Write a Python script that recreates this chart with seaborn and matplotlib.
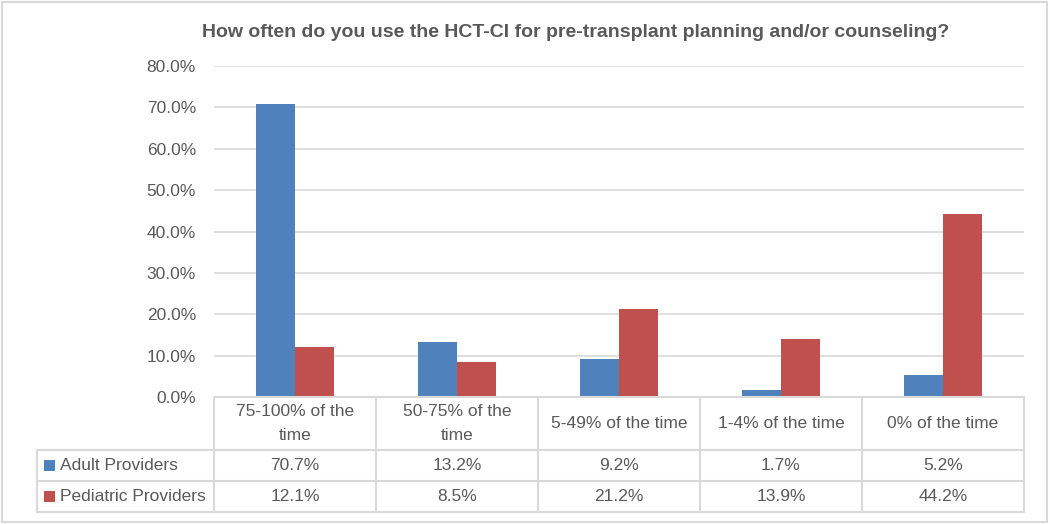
import numpy as np
import pandas as pd
import matplotlib
matplotlib.use('Agg')
import matplotlib.pyplot as plt
from matplotlib.patches import Rectangle
from matplotlib.lines import Line2D
import seaborn as sns

# chart data
categories = ['75-100% of the\ntime', '50-75% of the\ntime', '5-49% of the time',
              '1-4% of the time', '0% of the time']
series = ['Adult Providers', 'Pediatric Providers']
adult = [70.7, 13.2, 9.2, 1.7, 5.2]
pediatric = [12.1, 8.5, 21.2, 13.9, 44.2]
colors = ['#4F81BD', '#C0504D']
y_ticks = [0, 10, 20, 30, 40, 50, 60, 70, 80]

df = pd.DataFrame({
    'Category': categories * 2,
    'Provider': [series[0]] * 5 + [series[1]] * 5,
    'Value': adult + pediatric,
})

sns.set_style('white')
plt.rcParams['font.family'] = ['Liberation Sans', 'DejaVu Sans']
txt = '#595959'
grid = '#D9D9D9'

W, H = 1050, 524
fig = plt.figure(figsize=(W / 100, H / 100), dpi=100)
L, R, T, B = 214, 1024, 66, 397
ax = fig.add_axes([L / W, 1 - B / H, (R - L) / W, (B - T) / H])

sns.barplot(data=df, x='Category', y='Value', hue='Provider', order=categories,
            hue_order=series, palette=colors, width=0.48, saturation=1,
            linewidth=0, legend=False, ax=ax)

ax.set_xlim(-0.5, len(categories) - 0.5)
ax.set_ylim(0, 80)
ax.set_yticks(y_ticks)
ax.set_yticklabels([f'{v:.1f}%' for v in y_ticks], color=txt, fontsize=12.5)
ax.tick_params(axis='y', length=0, pad=13)
ax.set_xticks([])
ax.set_xlabel('')
ax.set_ylabel('')
ax.yaxis.grid(True, color=grid, linewidth=1.2)
ax.set_axisbelow(True)
for s in ax.spines.values():
    s.set_visible(False)

ax.set_title('How often do you use the HCT-CI for pre-transplant planning and/or counseling?',
             fontsize=14, fontweight='bold', color=txt, x=0.446, pad=21)

# data table below the axes
ph = B - T
pw = R - L
y_hdr = -53 / ph
y_r1 = -84 / ph
y_r2 = -115 / ph
x_lab = (37 - L) / pw
lkw = dict(color=grid, linewidth=1.5, clip_on=False, transform=ax.transAxes)
trans_x = ax.get_xaxis_transform()

ax.add_line(Line2D([0, 1], [0, 0], **lkw))
for yy in (y_hdr, y_r1, y_r2):
    ax.add_line(Line2D([x_lab, 1], [yy, yy], **lkw))
ax.add_line(Line2D([x_lab, x_lab], [y_hdr, y_r2], **lkw))
for i in range(len(categories) + 1):
    ax.add_line(Line2D([i - 0.5, i - 0.5], [0, y_r2], color=grid, linewidth=1.5,
                       clip_on=False, transform=trans_x))

for i, c in enumerate(categories):
    ax.text(i, y_hdr / 2, c, transform=trans_x, ha='center', va='center',
            fontsize=12.5, color=txt, linespacing=1.75)
    ax.text(i, (y_hdr + y_r1) / 2, f'{adult[i]:.1f}%', transform=trans_x,
            ha='center', va='center', fontsize=12.5, color=txt)
    ax.text(i, (y_r1 + y_r2) / 2, f'{pediatric[i]:.1f}%', transform=trans_x,
            ha='center', va='center', fontsize=12.5, color=txt)

for j, (name, col) in enumerate(zip(series, colors)):
    yc = (y_hdr + y_r1) / 2 if j == 0 else (y_r1 + y_r2) / 2
    sq_w = 11 / pw
    sq_h = 11 / ph
    ax.add_patch(Rectangle(((44 - L) / pw, yc - sq_h / 2), sq_w, sq_h,
                           facecolor=col, edgecolor='none', clip_on=False,
                           transform=ax.transAxes))
    ax.text((60 - L) / pw, yc, name, transform=ax.transAxes, ha='left',
            va='center', fontsize=12.5, color=txt)

# outer chart border
fig.add_artist(Rectangle((2 / W, 2 / H), 1045 / W, 520 / H, fill=False,
                         edgecolor=grid, linewidth=1.5, transform=fig.transFigure))

fig.savefig('out.png', dpi=100)
